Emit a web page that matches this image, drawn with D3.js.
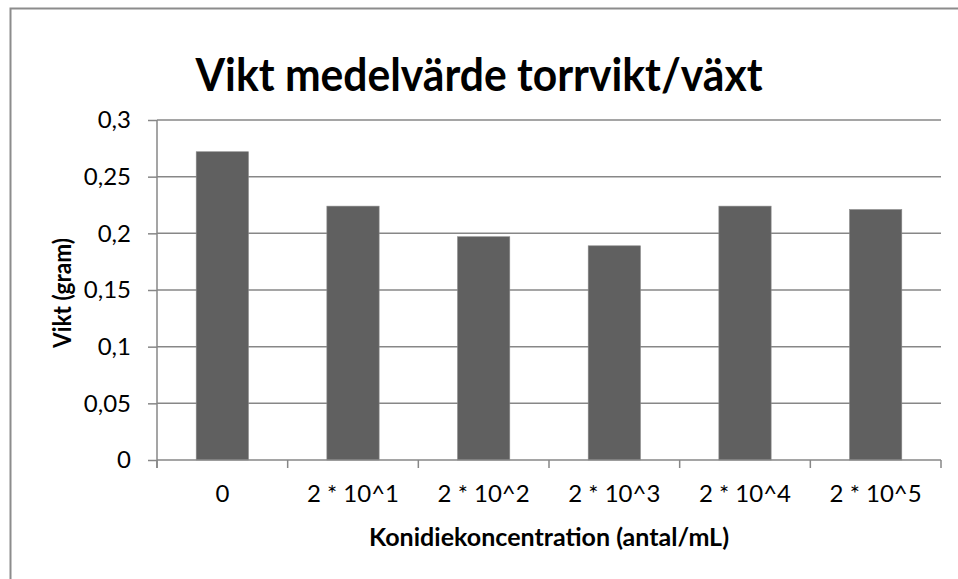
<!DOCTYPE html>
<html>
<head>
<meta charset="utf-8">
<script src="https://cdn.jsdelivr.net/npm/d3@7"></script>
<style>
  body { margin: 0; background: #fff; }
  svg { display: block; font-family: Lato, "Open Sans", sans-serif; }
</style>
</head>
<body>
<svg id="chart"></svg>
<script>
// data
const categories = ["0", "2 * 10^1", "2 * 10^2", "2 * 10^3", "2 * 10^4", "2 * 10^5"];
const values = [0.272, 0.224, 0.197, 0.189, 0.224, 0.221];
const yTicks = [0, 0.05, 0.1, 0.15, 0.2, 0.25, 0.3];

const chartTitle = "Vikt medelvärde torrvikt/växt";
const xTitle = "Konidiekoncentration (antal/mL)";
const yTitle = "Vikt (gram)";

const width = 958, height = 579;
const margin = {top: 120, right: 17, bottom: 119, left: 157};
const plotW = width - margin.left - margin.right;
const plotH = height - margin.top - margin.bottom;
const gridColor = "#878787";

const svg = d3.select("#chart")
    .attr("width", width)
    .attr("height", height);

// chart frame (only top and left edges show in the crop)
svg.append("path")
    .attr("d", `M10.5,${height} V8.5 H${width}`)
    .attr("fill", "none")
    .attr("stroke", "#8c8c8c")
    .attr("stroke-width", 2);

const x = d3.scaleBand().domain(categories).range([0, plotW]);
const y = d3.scaleLinear().domain([0, 0.3]).range([plotH, 0]);

const g = svg.append("g")
    .attr("transform", `translate(${margin.left}, ${margin.top})`);

// gridlines
g.selectAll("line.grid")
    .data(yTicks.filter(d => d > 0))
    .enter()
    .append("line")
    .attr("class", "grid")
    .attr("x1", 0)
    .attr("x2", plotW)
    .attr("y1", d => y(d))
    .attr("y2", d => y(d))
    .attr("stroke", gridColor)
    .attr("stroke-width", 1.5);

// bars
const barW = x.bandwidth() * 0.4;
g.selectAll("rect.bar")
    .data(values)
    .enter()
    .append("rect")
    .attr("class", "bar")
    .attr("x", (d, i) => x(categories[i]) + (x.bandwidth() - barW) / 2)
    .attr("y", d => y(d))
    .attr("width", barW)
    .attr("height", d => plotH - y(d))
    .attr("fill", "#606060")
    .attr("stroke", "#8a8a8a")
    .attr("stroke-width", 0.6);

// y axis
const yAxis = g.append("g")
    .call(d3.axisLeft(y)
        .tickValues(yTicks)
        .tickSize(9)
        .tickPadding(17)
        .tickFormat(d => String(d).replace(".", ",")));
yAxis.select(".domain").remove();
yAxis.selectAll(".tick line").attr("stroke", gridColor).attr("stroke-width", 1.5);
yAxis.selectAll(".tick text")
    .attr("fill", "#000")
    .style("font-size", "24px")
    .style("font-family", "Lato, sans-serif");
g.append("line")
    .attr("x1", 0).attr("x2", 0)
    .attr("y1", 0).attr("y2", plotH + 8)
    .attr("stroke", gridColor)
    .attr("stroke-width", 1.5);

// x axis: labels centred on bands, ticks at band edges
const xAxis = g.append("g")
    .attr("transform", `translate(0, ${plotH})`)
    .call(d3.axisBottom(x).tickSize(0).tickPadding(25));
xAxis.select(".domain").remove();
xAxis.selectAll(".tick text")
    .attr("fill", "#000")
    .style("font-size", "24px")
    .style("font-family", "Lato, sans-serif");
g.append("line")
    .attr("x1", 0).attr("x2", plotW)
    .attr("y1", plotH).attr("y2", plotH)
    .attr("stroke", gridColor)
    .attr("stroke-width", 1.5);
g.selectAll("line.xtick")
    .data(categories.map(c => x(c)).concat([x(categories[categories.length - 1]) + x.bandwidth()]))
    .enter()
    .append("line")
    .attr("class", "xtick")
    .attr("x1", d => d).attr("x2", d => d)
    .attr("y1", plotH).attr("y2", plotH + 8)
    .attr("stroke", gridColor)
    .attr("stroke-width", 1.5);

// titles
svg.append("text")
    .attr("x", 479)
    .attr("y", 91)
    .attr("text-anchor", "middle")
    .attr("textLength", 567)
    .attr("lengthAdjust", "spacingAndGlyphs")
    .style("font-size", "46px")
    .style("font-weight", "bold")
    .text(chartTitle);

svg.append("text")
    .attr("x", margin.left + plotW / 2)
    .attr("y", 546)
    .attr("text-anchor", "middle")
    .attr("textLength", 360)
    .attr("lengthAdjust", "spacingAndGlyphs")
    .style("font-size", "24px")
    .style("font-weight", "bold")
    .text(xTitle);

svg.append("text")
    .attr("transform", `translate(71, ${margin.top + plotH / 2 + 3}) rotate(-90)`)
    .attr("text-anchor", "middle")
    .attr("textLength", 110)
    .attr("lengthAdjust", "spacingAndGlyphs")
    .style("font-size", "24px")
    .style("font-weight", "bold")
    .text(yTitle);
</script>
</body>
</html>
